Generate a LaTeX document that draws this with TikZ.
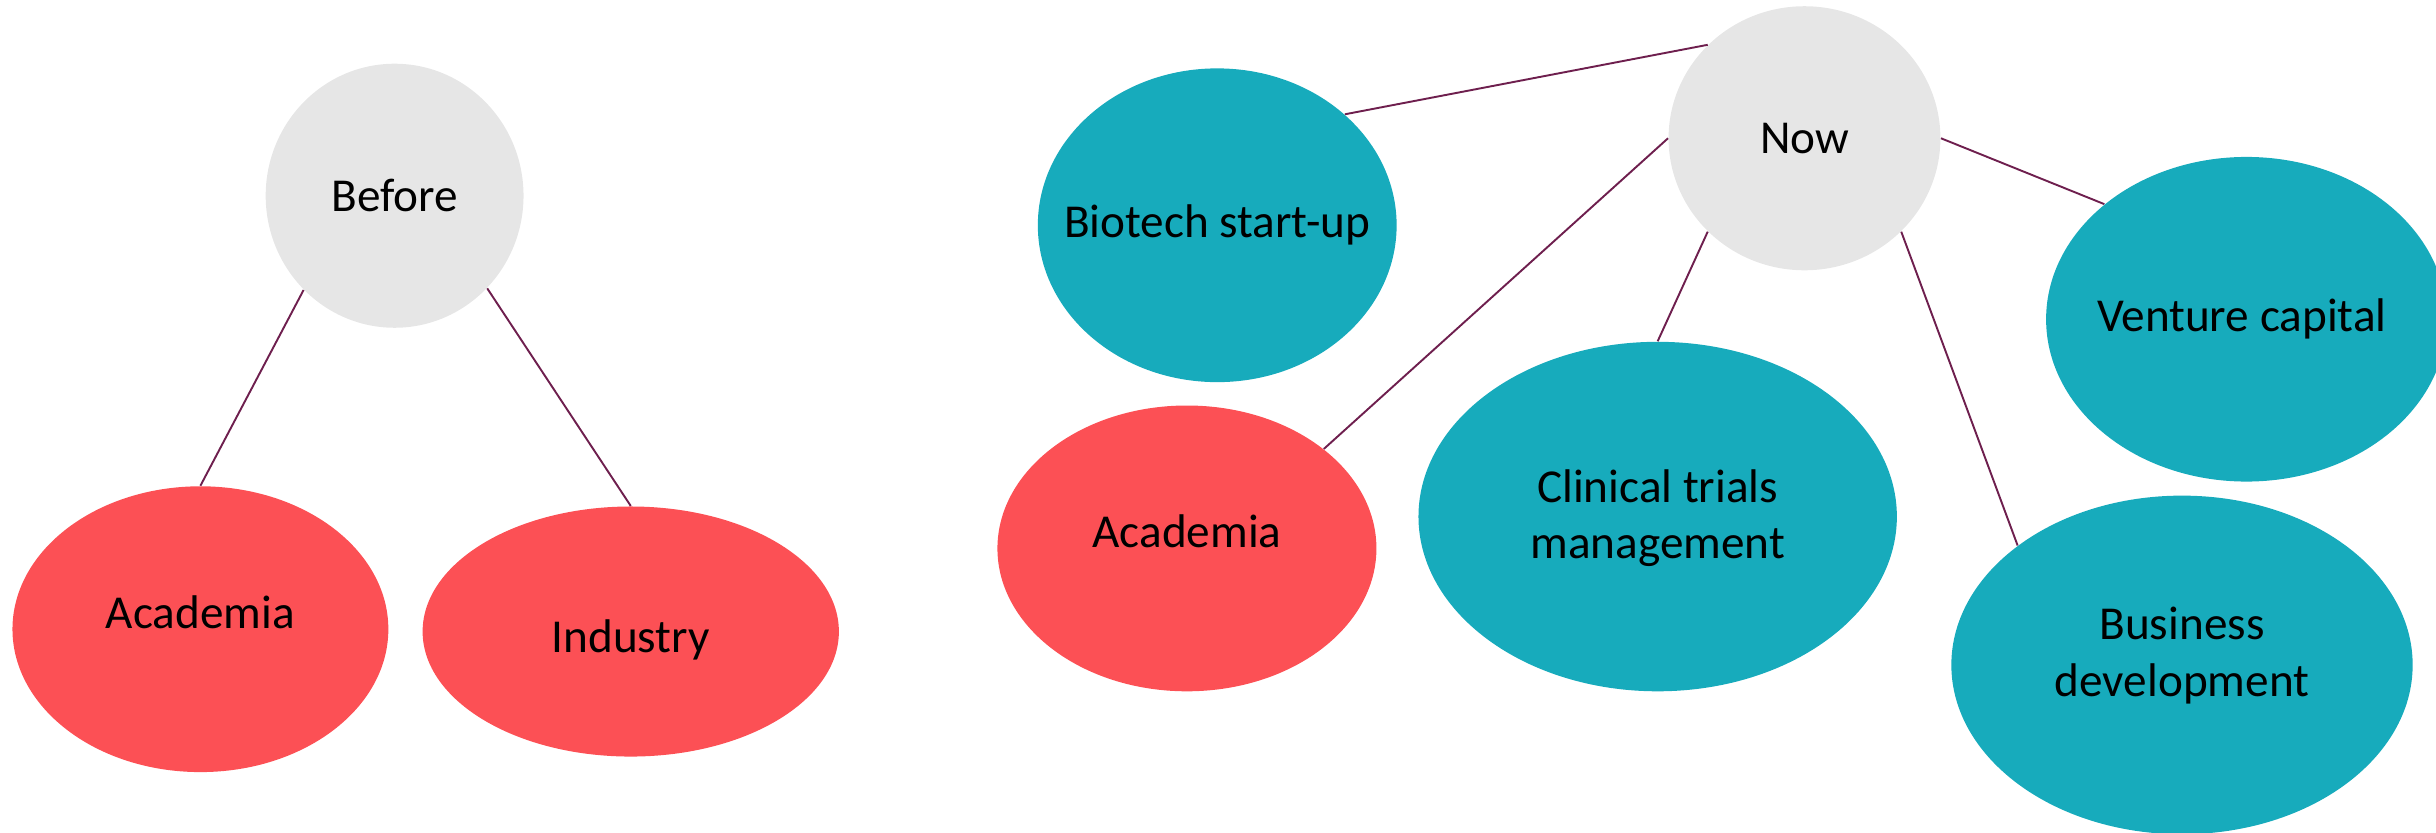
\documentclass[tikz,border=0pt]{standalone}
\usepackage{fontspec}
\setmainfont{Carlito}
\usepackage{tikz}
\usetikzlibrary{shapes.geometric,positioning}
\definecolor{nowgrey}{HTML}{E6E6E6}
\definecolor{oldred}{HTML}{FC5055}
\definecolor{newteal}{HTML}{17ABBC}
\definecolor{linkc}{HTML}{6E1F4E}

\begin{document}
\begin{tikzpicture}[x=0.02cm, y=-0.02cm,
        font=\fontsize{17.3}{20.7}\selectfont,
        blob/.style={ellipse, inner sep=0pt},
        era/.style={blob, fill=nowgrey},
        oldjob/.style={blob, fill=oldred},
        newjob/.style={blob, fill=newteal},
        every label/.style={align=center, inner sep=0pt},
        every edge/.style={draw=linkc, line width=0.7pt}]
        \useasboundingbox (0,0) rectangle (1568,536);

        \node [era, minimum width=3.32cm, minimum height=3.40cm,
               label=center:Before] (before) at (254,126) {};
        \node [oldjob, minimum width=4.84cm, minimum height=3.68cm,
               label={[yshift=0.22cm]center:Academia}] (acad1) at (129,405) {};
        \node [oldjob, minimum width=5.36cm, minimum height=3.22cm,
               label={[yshift=-0.11cm]center:Industry}] (industry) at (406,406.5) {};

        \node [era, minimum width=3.50cm, minimum height=3.40cm,
               label=center:Now] (now) at (1161.5,89) {};
        \node [newjob, minimum width=4.62cm, minimum height=4.04cm,
               label=center:Biotech start-up] (biotech) at (783.5,145) {};
        \node [oldjob, minimum width=4.88cm, minimum height=3.68cm,
               label={[yshift=0.22cm]center:Academia}] (acad2) at (764,353) {};
        \node [newjob, minimum width=6.16cm, minimum height=4.50cm,
               label={[yshift=-0.02cm]center:Clinical trials\\management}] (clinical) at (1067,332.5) {};
        \node [newjob, minimum width=5.16cm, minimum height=4.18cm,
               label={[xshift=-0.06cm]center:Venture capital}] (venture) at (1446,205.5) {};
        \node [newjob, minimum width=5.94cm, minimum height=4.36cm,
               label={[yshift=0.12cm]center:Business\\development}] (business) at (1404.5,428) {};

        \path (before.226) edge (acad1.north);
        \path (before.-45) edge (industry.north);

        \path (now.136) edge (biotech.41);
        \path (now.west) edge (acad2.36);
        \path (now.224) edge (clinical.north);
        \path (now.east) edge (venture.141);
        \path (now.-44) edge (business.144);
    \end{tikzpicture}
\end{document}
